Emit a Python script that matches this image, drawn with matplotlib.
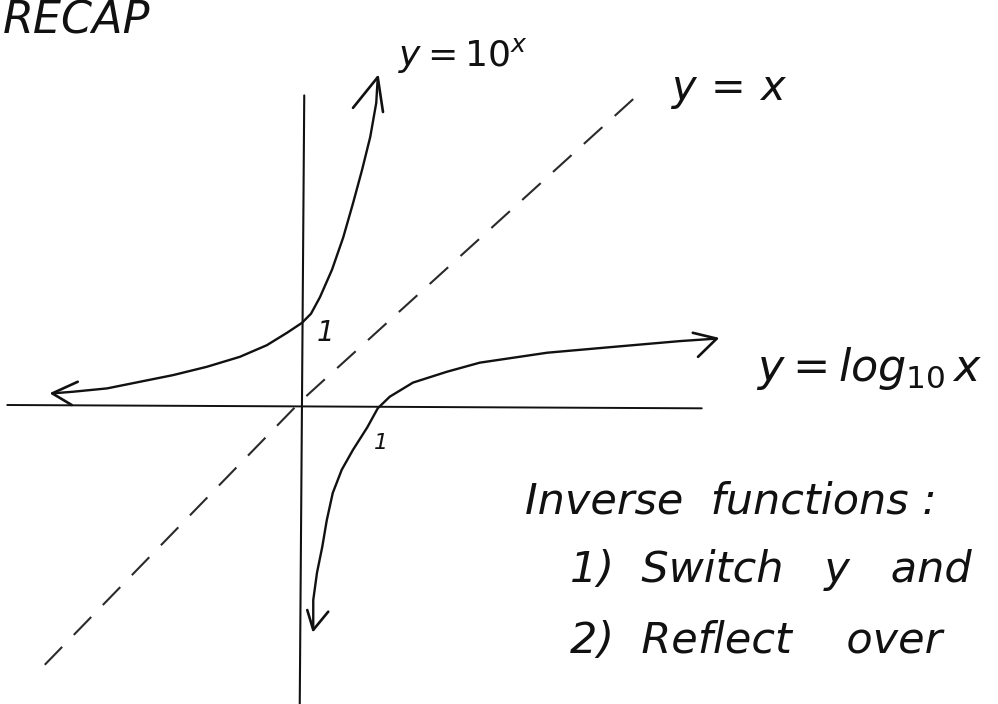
import matplotlib
matplotlib.use("Agg")
import matplotlib.pyplot as plt

# ---------------- data (in graph units) ----------------
# y = 10^x  (traced points)
exp_x = [-3.33, -3.05, -2.60, -2.16, -1.72, -1.27, -0.83, -0.47, -0.20, 0.00,
         0.12, 0.24, 0.40, 0.55, 0.68, 0.80, 0.91, 0.99, 1.01]
exp_y = [0.14, 0.16, 0.20, 0.28, 0.36, 0.46, 0.58, 0.72, 0.87, 0.99,
         1.10, 1.30, 1.63, 2.02, 2.43, 2.83, 3.23, 3.64, 3.95]

# y = log10 x  (traced points)
log_x = [0.15, 0.15, 0.20, 0.27, 0.33, 0.41, 0.53, 0.68, 0.87, 1.01,
         1.17, 1.48, 1.93, 2.37, 3.27, 4.15, 5.04, 5.53]
log_y = [-2.71, -2.35, -2.02, -1.71, -1.39, -1.06, -0.78, -0.54, -0.27, -0.04,
         0.10, 0.27, 0.40, 0.51, 0.63, 0.70, 0.77, 0.80]

# y = x  (dashed guide)
idn_x = [-3.43, 0.00, 4.47]
idn_y = [-3.13, 0.06, 3.73]

# axes of the sketch
haxis_x = [-3.93, 5.33]
haxis_y = [0.00, -0.04]
vaxis_x = [0.03, -0.03]
vaxis_y = [3.73, -3.60]

# arrow heads: [barb1, tip, barb2]
exp_up_x, exp_up_y = [0.68, 1.01, 1.08], [3.58, 3.95, 3.53]
exp_left_x, exp_left_y = [-2.99, -3.33, -3.07], [0.28, 0.14, 0.00]
log_right_x, log_right_y = [5.21, 5.53, 5.28], [0.87, 0.80, 0.58]
log_down_x, log_down_y = [0.07, 0.15, 0.35], [-2.47, -2.71, -2.49]

title_text = "RECAP"
exp_label = r"$y{=}10^{x}$"
idn_label = r"$y\,=\,x$"
log_label = r"$y = log_{10}\,x$"
note_lines = ["Inverse  functions :", "1)  Switch   y   and", "2)  Reflect    over"]

# ---------------- figure ----------------
W, H = 998, 704
OX, OY, UX, UY = 302, 405, 75.0, 83.0
fig = plt.figure(figsize=(W / 100, H / 100), dpi=100)
fig.patch.set_facecolor("white")
ax = fig.add_axes([0, 0, 1, 1])
ax.set_xlim((0 - OX) / UX, (W - OX) / UX)
ax.set_ylim((OY - H) / UY, OY / UY)
ax.axis("off")

ink = "#111111"
# axes
ax.plot(haxis_x, haxis_y, color=ink, lw=1.4, solid_capstyle="round")
ax.plot(vaxis_x, vaxis_y, color=ink, lw=1.5, solid_capstyle="round")

# identity (dashed)
ax.plot(idn_x, idn_y, color="#2a2a2a", lw=1.5, linestyle=(0, (12, 8)))

# curves
ax.plot(exp_x, exp_y, color=ink, lw=1.7, solid_capstyle="round", solid_joinstyle="round")
ax.plot(log_x, log_y, color=ink, lw=1.7, solid_capstyle="round", solid_joinstyle="round")

for hx, hy in [(exp_up_x, exp_up_y), (exp_left_x, exp_left_y),
               (log_right_x, log_right_y), (log_down_x, log_down_y)]:
    ax.plot(hx, hy, color=ink, lw=1.9, solid_capstyle="round", solid_joinstyle="round")

def P(px, py):
    return (px - OX) / UX, (OY - py) / UY

hand = dict(family="DejaVu Sans", style="italic", color=ink)

ax.text(*P(3, 34), title_text, fontsize=32, ha="left", va="baseline", **hand)
ax.text(*P(398, 66), exp_label, fontsize=26, ha="left", va="baseline", color=ink)
ax.text(*P(670, 100), idn_label, fontsize=30, ha="left", va="baseline", color=ink)
ax.text(*P(756, 381), log_label, fontsize=32, ha="left", va="baseline", color=ink)

ax.text(*P(325, 333), "1", fontsize=20, ha="center", va="center", **hand)
ax.text(*P(381, 443), "1", fontsize=16, ha="center", va="center", **hand)

ax.text(*P(525, 513), note_lines[0], fontsize=31, ha="left", va="baseline", **hand)
ax.text(*P(570, 582), note_lines[1], fontsize=31, ha="left", va="baseline", **hand)
ax.text(*P(570, 653), note_lines[2], fontsize=31, ha="left", va="baseline", **hand)

fig.savefig("out.png", dpi=100, facecolor="white")
